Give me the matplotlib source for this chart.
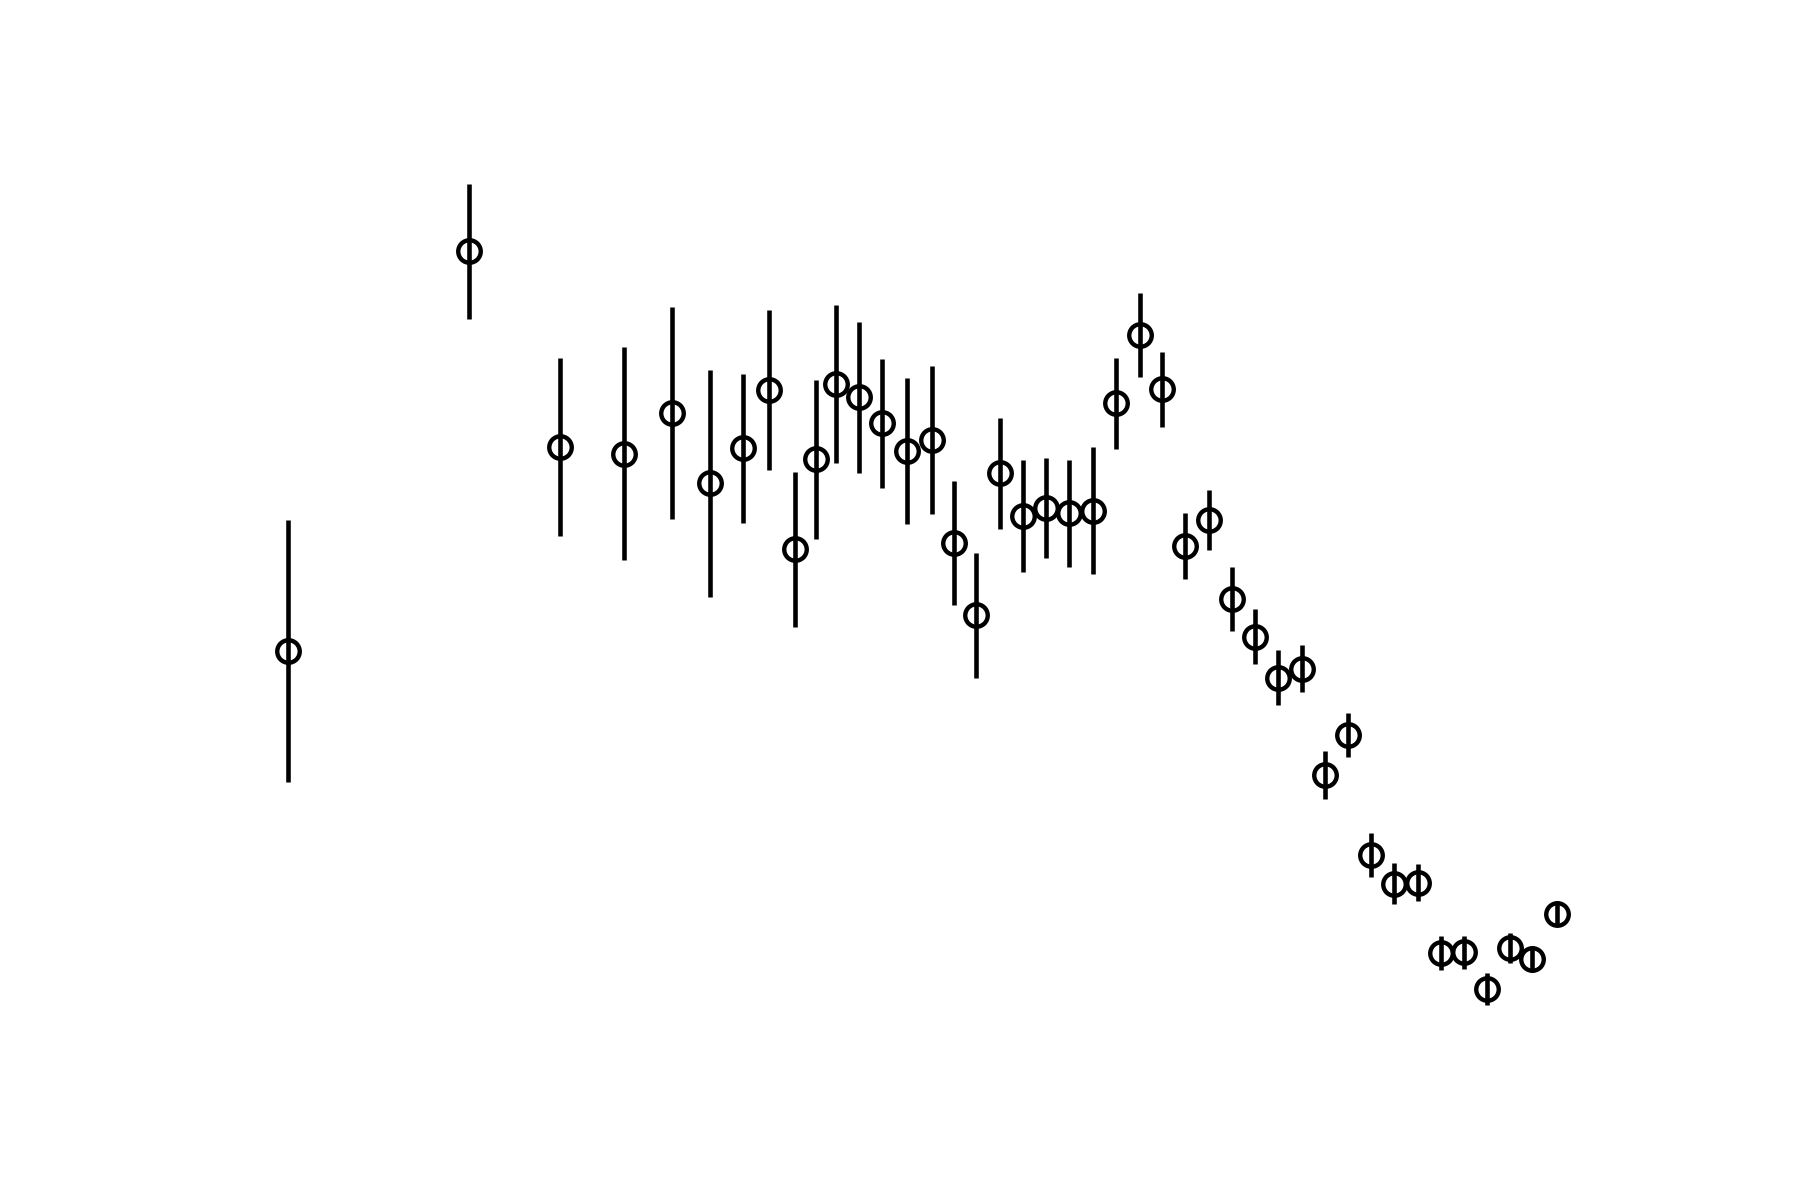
import matplotlib
matplotlib.use("Agg")
import matplotlib.pyplot as plt

# observation times (arbitrary units) and measured values with 1-sigma errors
t = [2.55, 10.40, 14.40, 17.15, 19.25, 20.93, 22.35, 23.50, 24.60, 25.55,
     26.40, 27.40, 28.40, 29.50, 30.60, 31.55, 32.50, 33.55, 34.55, 35.55,
     36.55, 37.60, 38.60, 39.65, 40.60, 41.60, 42.65, 43.65, 44.65, 45.65,
     46.70, 47.70, 48.70, 49.70, 50.70, 51.75, 52.75, 53.75, 54.75, 55.75,
     56.75, 57.80]
flux = [4.33, 7.81, 6.11, 6.05, 6.40, 5.79, 6.095, 6.603, 5.215, 6.00,
        6.655, 6.54, 6.313, 6.072, 6.168, 5.27, 4.643, 5.877, 5.505, 5.578,
        5.529, 5.552, 6.487, 7.082, 6.609, 5.244, 5.471, 4.783, 4.454, 4.10,
        4.177, 3.252, 3.597, 2.555, 2.304, 2.313, 1.701, 1.707, 1.389, 1.744,
        1.647, 2.045]
flux_err = [1.14, 0.585, 0.776, 0.93, 0.923, 0.99, 0.65, 0.70, 0.672, 0.69,
            0.687, 0.66, 0.563, 0.633, 0.646, 0.538, 0.543, 0.481, 0.486, 0.433,
            0.463, 0.554, 0.395, 0.365, 0.326, 0.29, 0.263, 0.282, 0.24, 0.236,
            0.206, 0.212, 0.19, 0.194, 0.178, 0.162, 0.147, 0.144, 0.14, 0.133,
            0.113, 0.111]

fig, ax = plt.subplots(figsize=(6, 4), dpi=300)

ax.errorbar(t, flux, yerr=flux_err, fmt='o', mfc='none', mec='k', ms=5.4,
            mew=1.05, ecolor='k', elinewidth=1.1, capsize=0)

ax.set_ylim(0.70, 8.746)
ax.axis('off')

fig.savefig('out.png', dpi=300)
